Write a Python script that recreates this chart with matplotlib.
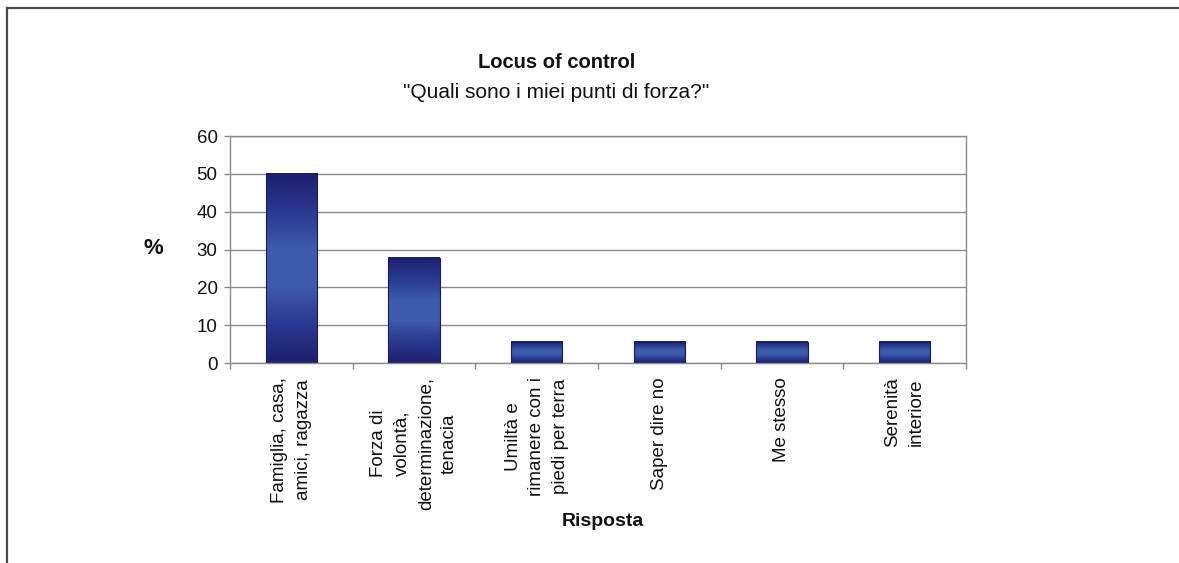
import numpy as np
import matplotlib
matplotlib.use("Agg")
import matplotlib.pyplot as plt
from matplotlib.colors import LinearSegmentedColormap
from matplotlib.lines import Line2D

plt.rcParams['font.family'] = ['Liberation Sans', 'DejaVu Sans']

# Data
categories = [
    "Famiglia, casa,\namici, ragazza",
    "Forza di\nvolontà,\ndeterminazione,\ntenacia",
    "Umiltà e\nrimanere con i\npiedi per terra",
    "Saper dire no",
    "Me stesso",
    "Serenità\ninteriore",
]
values = [50.0, 27.8, 5.6, 5.6, 5.6, 5.6]
y_ticks = [0, 10, 20, 30, 40, 50, 60]

title = "Locus of control"
subtitle = '"Quali sono i miei punti di forza?"'
xlabel = "Risposta"
ylabel = "%"

W, H = 1179, 563
fig = plt.figure(figsize=(W / 100, H / 100), dpi=100)
fig.patch.set_facecolor("white")

ax = fig.add_axes([230 / W, 1 - 363 / H, (966 - 230) / W, (363 - 136) / H])

n = len(categories)
x = np.arange(n)
bar_w = 0.42

# vertical shading: dark navy at both ends, brighter blue through the middle
cmap = LinearSegmentedColormap.from_list(
    "navy", ["#1e206c", "#2a3890", "#3d5aab", "#3d5aab", "#2a3890", "#1e206c"])
grad = np.linspace(0, 1, 256).reshape(-1, 1)

bars = ax.bar(x, values, width=bar_w, facecolor="none",
              edgecolor="#1a1c5c", linewidth=0.8, zorder=3)
for rect, v in zip(bars, values):
    x0 = rect.get_x()
    ax.imshow(grad, cmap=cmap, aspect="auto", origin="lower",
              extent=[x0, x0 + rect.get_width(), 0, v], zorder=2.5,
              interpolation="bilinear")

ax.set_xlim(-0.5, n - 0.5)
ax.set_ylim(0, 60)

# grid and spines
ax.set_yticks(y_ticks)
ax.yaxis.grid(True, color="#8a8a8a", linewidth=1.0, zorder=0)
ax.set_axisbelow(True)
for side in ["left", "right", "bottom", "top"]:
    ax.spines[side].set_color("#8a8a8a")
    ax.spines[side].set_linewidth(1.0)

ax.tick_params(axis="y", length=4, width=1.0, color="#8a8a8a",
               labelsize=13.5, pad=5, labelcolor="#111111")

# tick marks at category boundaries, labels at centres
ax.set_xticks(np.arange(-0.5, n, 1.0))
ax.set_xticklabels([])
ax.tick_params(axis="x", which="major", length=4, width=1.0, color="#8a8a8a")
ax.set_xticks(x, minor=True)
ax.set_xticklabels(categories, minor=True, rotation=90, va="top",
                   ha="center", multialignment="center", linespacing=1.5,
                   fontsize=13.5, color="#111111")
ax.tick_params(axis="x", which="minor", length=0, pad=10)

# titles and axis labels
fig.text(557 / W, 1 - 63 / H, title, ha="center", va="center",
         fontsize=14.5, fontweight="bold", color="#111111")
fig.text(556 / W, 1 - 93 / H, subtitle, ha="center", va="center",
         fontsize=15, color="#111111")
fig.text(153 / W, 1 - 248 / H, ylabel, ha="center", va="center",
         fontsize=16, fontweight="bold", color="#111111")
fig.text(603 / W, 1 - 522 / H, xlabel, ha="center", va="center",
         fontsize=14, fontweight="bold", color="#111111")

# outer frame (top and left edges)
fig.add_artist(Line2D([7.5 / W, 1.0], [1 - 7.5 / H, 1 - 7.5 / H],
                      transform=fig.transFigure, color="#4a4a4a", linewidth=1.6))
fig.add_artist(Line2D([7.5 / W, 7.5 / W], [0.0, 1 - 7.5 / H],
                      transform=fig.transFigure, color="#4a4a4a", linewidth=1.6))

fig.savefig("out.png", dpi=100, facecolor="white")
